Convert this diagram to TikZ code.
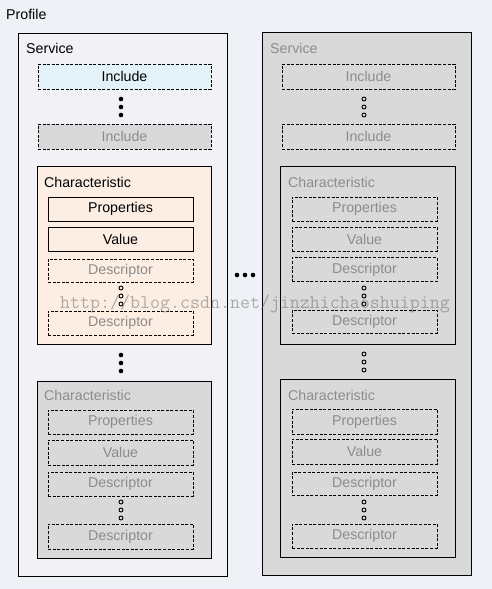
\documentclass[tikz,border=0pt]{standalone}
\usepackage{fontspec}
\setmainfont{Liberation Sans}
\definecolor{bgc}{HTML}{EEF1F6}
\definecolor{svcc}{HTML}{F2F1F6}
\definecolor{incc}{HTML}{E3F2F8}
\definecolor{grayc}{HTML}{D9D9D9}
\definecolor{chrc}{HTML}{FDEEE4}
\definecolor{dimc}{HTML}{8C8C8C}
\begin{document}
\begin{tikzpicture}[x=1pt, y=-1pt,
  font=\fontsize{14.2}{16}\selectfont,
  box/.style={rectangle, draw, line width=0.9pt, inner sep=0pt, outer sep=0pt},
  dbox/.style={box, dash pattern=on 3pt off 1.6pt, text=dimc},
  lbl/.style={anchor=west, inner sep=0pt},
  bdot/.style={circle, fill, inner sep=0pt, minimum size=4.6pt},
  odot/.style={circle, draw, line width=0.9pt, inner sep=0pt, minimum size=4pt}]

\useasboundingbox (0,0) rectangle (492,589);
\fill[bgc] (0,0) rectangle (492,589);
\node[lbl] (prof) at (6,14) {Profile};

% left service
\node[box, fill=svcc, minimum width=209pt, minimum height=543pt] (srvL) at (122.5,304.5) {};
\node[lbl] (srvLt) at (26,48) {Service};
\node[dbox, fill=incc, text=black, minimum width=173pt, minimum height=25pt] (incL1) at (124.5,76.5) {Include};
\foreach \y in {99,107,115} \node[bdot] at (121,\y) {};
\node[dbox, fill=grayc, minimum width=173pt, minimum height=25pt] (incL2) at (124.5,136.5) {Include};

\node[box, fill=chrc, minimum width=174pt, minimum height=178pt] (chrL1) at (124,255) {};
\node[lbl] (chrL1t) at (44,182) {Characteristic};
\node[box, minimum width=145pt, minimum height=24pt] (propL1) at (120.5,209) {Properties};
\node[box, minimum width=145pt, minimum height=24pt] (valL1) at (120.5,239) {Value};
\node[dbox, minimum width=145pt, minimum height=23pt] (descL1a) at (120.5,270.5) {Descriptor};
\foreach \y in {288,296,304} \node[odot] at (121,\y) {};
\node[dbox, minimum width=145pt, minimum height=24pt] (descL1b) at (120.5,323) {Descriptor};
\foreach \y in {355,363,371} \node[bdot] at (121,\y) {};

\node[box, fill=grayc, minimum width=174pt, minimum height=177pt] (chrL2) at (124,469.5) {};
\node[lbl, text=dimc] (chrL2t) at (44,395) {Characteristic};
\node[dbox, minimum width=145pt, minimum height=24pt] (propL2) at (120.5,422) {Properties};
\node[dbox, minimum width=145pt, minimum height=25pt] (valL2) at (120.5,452.5) {Value};
\node[dbox, minimum width=145pt, minimum height=24pt] (descL2a) at (120.5,484) {Descriptor};
\foreach \y in {502,510,518} \node[odot] at (121,\y) {};
\node[dbox, minimum width=145pt, minimum height=25pt] (descL2b) at (120.5,536.5) {Descriptor};

% between the services
\foreach \x in {237,245,253} \node[bdot] at (\x,275) {};

% right service
\node[box, fill=grayc, minimum width=209pt, minimum height=543pt] (srvR) at (366.5,303.5) {};
\node[lbl, text=dimc] (srvRt) at (270,48) {Service};
\node[dbox, minimum width=173pt, minimum height=25pt] (incR1) at (368.5,76.5) {Include};
\foreach \y in {99,107,115} \node[odot] at (364,\y) {};
\node[dbox, minimum width=173pt, minimum height=25pt] (incR2) at (368.5,136.5) {Include};

\node[box, minimum width=175pt, minimum height=178pt] (chrR1) at (367.5,255) {};
\node[lbl, text=dimc] (chrR1t) at (288,182) {Characteristic};
\node[dbox, minimum width=145pt, minimum height=24pt] (propR1) at (364.5,209) {Properties};
\node[dbox, minimum width=145pt, minimum height=24pt] (valR1) at (364.5,239) {Value};
\node[dbox, minimum width=145pt, minimum height=24pt] (descR1a) at (364.5,269.5) {Descriptor};
\foreach \y in {288,296,304} \node[odot] at (364,\y) {};
\node[dbox, minimum width=145pt, minimum height=23pt] (descR1b) at (364.5,321.5) {Descriptor};
\foreach \y in {354,362,370} \node[odot] at (364,\y) {};

\node[box, minimum width=175pt, minimum height=178pt] (chrR2) at (367.5,468) {};
\node[lbl, text=dimc] (chrR2t) at (288,395) {Characteristic};
\node[dbox, minimum width=145pt, minimum height=25pt] (propR2) at (364.5,421.5) {Properties};
\node[dbox, minimum width=145pt, minimum height=25pt] (valR2) at (364.5,451.5) {Value};
\node[dbox, minimum width=145pt, minimum height=23pt] (descR2a) at (364.5,483.5) {Descriptor};
\foreach \y in {502,510,518} \node[odot] at (364,\y) {};
\node[dbox, minimum width=145pt, minimum height=24pt] (descR2b) at (364.5,536) {Descriptor};

% watermark
\node[anchor=base west, inner sep=0pt, text=black!60, text opacity=0.5,
  font=\ttfamily\fontsize{19.4}{20}\selectfont] (wm) at (60,308) {http://blog.csdn.net/jinzhichaoshuiping};
\end{tikzpicture}
\end{document}
